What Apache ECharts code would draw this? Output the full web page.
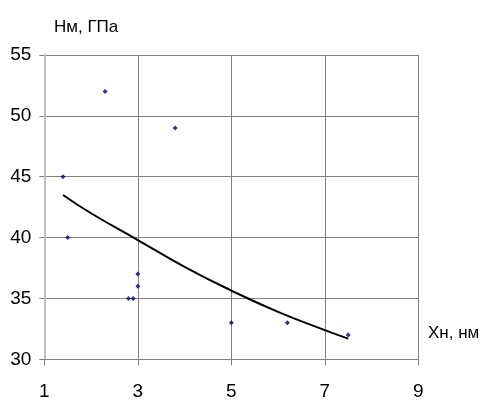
<!DOCTYPE html>
<html>
<head>
<meta charset="utf-8">
<script src="https://cdn.jsdelivr.net/npm/echarts@6/dist/echarts.min.js"></script>
<style>
html,body{margin:0;padding:0;background:#fff;}
#chart{width:480px;height:403px;}
</style>
</head>
<body>
<div id="chart"></div>
<script>
// Data
var pointX = [1.4, 1.5, 2.3, 2.8, 2.9, 3.0, 3.0, 3.8, 5.0, 6.2, 7.5];
var pointY = [45, 40, 52, 35, 35, 36, 37, 49, 33, 33, 32];
var trendX = [1.4, 2, 3, 4, 5, 6, 7, 7.5];
var trendY = [43.5, 42.0, 39.8, 37.6, 35.65, 33.9, 32.4, 31.7];
var yTitle = 'Нм, ГПа';
var xTitle = 'Хн, нм';

var FONT = '"Liberation Sans", Arial, sans-serif';

var scatterData = pointX.map(function (x, i) { return [x, pointY[i]]; });
var trendData = trendX.map(function (x, i) { return [x, trendY[i]]; });

var chart = echarts.init(document.getElementById('chart'), null, {renderer: 'canvas'});
chart.setOption({
  backgroundColor: '#ffffff',
  animation: false,
  grid: {left: 44.3, right: 61.7, top: 55, bottom: 43.7, containLabel: false},
  xAxis: {
    type: 'value', min: 1, max: 9, interval: 2,
    axisLine: {show: true, lineStyle: {color: '#808080', width: 1}},
    axisTick: {show: true, length: 6, lineStyle: {color: '#808080'}},
    splitLine: {show: true, lineStyle: {color: '#808080', width: 1}},
    axisLabel: {color: '#000', fontFamily: FONT, fontSize: 19, margin: 23}
  },
  yAxis: {
    type: 'value', min: 30, max: 55, interval: 5,
    axisLine: {show: true, lineStyle: {color: '#c0c0c0', width: 2}},
    axisTick: {show: true, length: 5, lineStyle: {color: '#808080'}},
    splitLine: {show: true, lineStyle: {color: '#808080', width: 1}},
    axisLabel: {color: '#000', fontFamily: FONT, fontSize: 19, margin: 13}
  },
  graphic: [
    {type: 'text', left: 54, top: 19, style: {text: yTitle, font: '17px ' + FONT, fill: '#000'}},
    {type: 'text', left: 428, top: 325, style: {text: xTitle, font: '17px ' + FONT, fill: '#000'}}
  ],
  series: [
    {
      type: 'line', data: trendData, smooth: true, showSymbol: false, symbol: 'none',
      lineStyle: {color: '#000', width: 2}, z: 3
    },
    {
      type: 'scatter', data: scatterData, symbol: 'diamond', symbolSize: 5,
      itemStyle: {color: '#000080'}, z: 4
    }
  ]
});
</script>
</body>
</html>
